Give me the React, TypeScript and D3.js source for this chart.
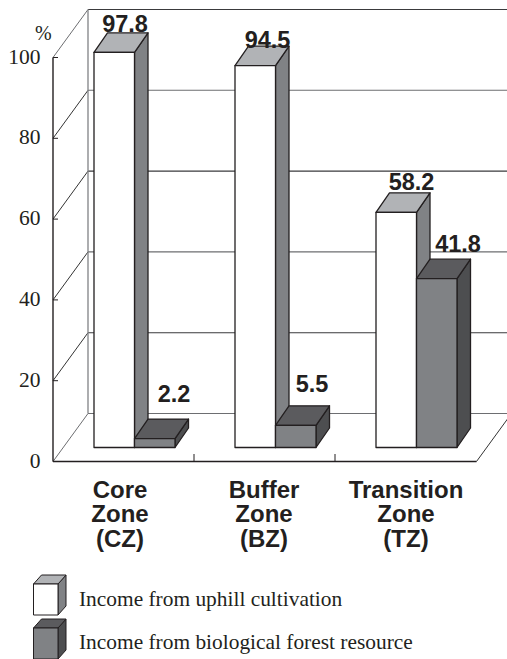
import React from "react";
import * as d3 from "d3";

const categories = ["CZ", "BZ", "TZ"];
const categoryLabels = [
  ["Core", "Zone", "(CZ)"],
  ["Buffer", "Zone", "(BZ)"],
  ["Transition", "Zone", "(TZ)"],
];
const uphill = [97.8, 94.5, 58.2];
const forest = [2.2, 5.5, 41.8];
const yTicks = [0, 20, 40, 60, 80, 100];
const legendLabels = ["Income from uphill cultivation", "Income from biological forest resource"];

const W = 507;
const H = 659;
const SERIF = "'Liberation Serif', 'Times New Roman', serif";
const SANS = "'Liberation Sans', sans-serif";
const TXT = "#231f20";
const depth = { x: 35, y: -48 };
const barDepth = { x: 13.5, y: -19.5 };

const xBand = d3.scaleBand<string>().domain(categories).range([53, 476]);
const yFront = d3.scaleLinear().domain([0, 100]).range([461.5, 57.5]);
const yBar = d3.scaleLinear().domain([0, 100]).range([447.5, 43.5]);

const barOffset = 41;
const barW = 40.5;
const labelOffset = [67, 70, 71];

const poly = (pts: [number, number][]) => pts.map((p) => p.join(",")).join(" ");

function Box({ x, w, top, bottom, d, front, side, lid, sw = 1.3 }: any) {
  return (
    <g stroke={TXT} strokeWidth={sw} strokeLinejoin="round">
      <polygon points={poly([[x + w, top], [x + w + d.x, top + d.y], [x + w + d.x, bottom + d.y], [x + w, bottom]])} fill={side} />
      <polygon points={poly([[x, top], [x + d.x, top + d.y], [x + w + d.x, top + d.y], [x + w, top]])} fill={lid} />
      <rect x={x} y={top} width={w} height={bottom - top} fill={front} />
    </g>
  );
}

const WHITE = { front: "#ffffff", side: "#808285", lid: "#b1b3b6" };
const DARK = { front: "#808285", side: "#4d4e50", lid: "#5b5b5e" };

const valueLabelPos = [
  [[125, 32], [174, 402]],
  [[267.5, 48], [312, 392]],
  [[411.5, 190], [458, 252]],
];

export default function App() {
  const yVals = yTicks;
  return (
    <svg width={W} height={H} viewBox={`0 0 ${W} ${H}`} style={{ position: "absolute", left: 0, top: 0, background: "#fff" }}>
      {/* back wall grid */}
      {yVals.map((v) => (
        <line key={"g" + v} x1={53 + depth.x} x2={W} y1={yFront(v) + depth.y} y2={yFront(v) + depth.y} stroke={v % 40 === 0 ? "#6d6e71" : "#3a3a3c"} strokeWidth={1.1} />
      ))}
      {yVals.map((v) => (
        <line key={"d" + v} x1={53} y1={yFront(v)} x2={53 + depth.x} y2={yFront(v) + depth.y} stroke={v === 100 || v === 0 ? "#6d6e71" : "#333"} strokeWidth={1} />
      ))}
      <line x1={88} x2={88} y1={yFront(100) + depth.y} y2={yFront(0) + depth.y} stroke="#808285" strokeWidth={1.3} />
      <line x1={476.5} y1={461.5} x2={476.5 + depth.x} y2={461.5 + depth.y} stroke="#333" strokeWidth={1} />

      {/* axes */}
      <line x1={53} x2={53} y1={yFront(100)} y2={yFront(0)} stroke={TXT} strokeWidth={1.4} />
      <line x1={53} x2={476.5} y1={461.5} y2={461.5} stroke={TXT} strokeWidth={1.4} />
      {yVals.map((v) => (
        <g key={"t" + v}>
          <line x1={53} x2={58} y1={yFront(v)} y2={yFront(v)} stroke={TXT} strokeWidth={1} />
          <text x={40.5} y={yFront(v) + 6} textAnchor="end" fontFamily={SERIF} fontSize={21.5} fill={TXT}>{v}</text>
        </g>
      ))}
      <text x={35} y={40} fontFamily={SERIF} fontSize={20} fill={TXT}>%</text>
      {categories.slice(1).map((c) => (
        <line key={c} x1={xBand(c)!} x2={xBand(c)!} y1={454} y2={461.5} stroke={TXT} strokeWidth={1} />
      ))}

      {/* bars */}
      {categories.map((c, i) => {
        const x0 = xBand(c)! + barOffset;
        return (
          <g key={c}>
            <Box x={x0} w={barW} top={yBar(uphill[i])} bottom={yBar(0)} d={barDepth} {...WHITE} />
            <Box x={x0 + barW} w={barW} top={yBar(forest[i])} bottom={yBar(0)} d={barDepth} {...DARK} />
            <text x={valueLabelPos[i][0][0]} y={valueLabelPos[i][0][1]} textAnchor="middle" fontFamily={SANS} fontWeight="bold" fontSize={23.5} fill={TXT}>{uphill[i]}</text>
            <text x={valueLabelPos[i][1][0]} y={valueLabelPos[i][1][1]} textAnchor="middle" fontFamily={SANS} fontWeight="bold" fontSize={23.5} fill={TXT}>{forest[i]}</text>
            {categoryLabels[i].map((t, j) => (
              <text key={j} x={xBand(c)! + labelOffset[i]} y={498 + j * 24.3} textAnchor="middle" fontFamily={SANS} fontWeight="bold" fontSize={24} fill={TXT}>{t}</text>
            ))}
          </g>
        );
      })}

      {/* legend */}
      {legendLabels.map((t, i) => {
        const top = 584 + i * 44;
        return (
          <g key={t}>
            <Box x={33.5} w={24.5} top={top} bottom={top + 31} d={{ x: 8, y: -9 }} {...(i === 0 ? WHITE : DARK)} sw={1} />
            <text x={79} y={605.5 + i * 43.5} fontFamily={SERIF} fontSize={21.4} fill={TXT}>{t}</text>
          </g>
        );
      })}
    </svg>
  );
}
